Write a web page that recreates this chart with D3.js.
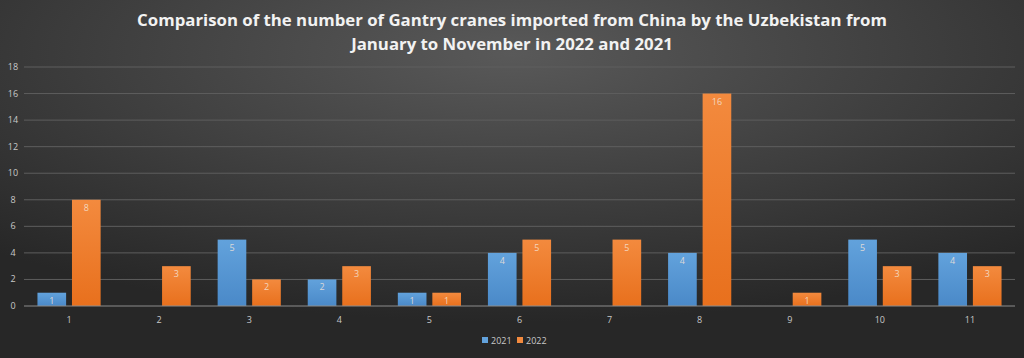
<!DOCTYPE html>
<html>
<head>
<meta charset="utf-8">
<script src="https://cdn.jsdelivr.net/npm/d3@7"></script>
<style>
  html, body { margin: 0; padding: 0; background: #333; }
  svg { display: block; font-family: "Open Sans", "Noto Sans", sans-serif; }
</style>
</head>
<body>
<div id="chart"></div>
<script>
// months, Jan..Nov
var months = ["1", "2", "3", "4", "5", "6", "7", "8", "9", "10", "11"];
var series = ["2021", "2022"];
var values2021 = [1, null, 5, 2, 1, 4, null, 4, null, 5, 4];
var values2022 = [8, 3, 2, 3, 1, 5, 5, 16, 1, 3, 3];
var yTicks = [0, 2, 4, 6, 8, 10, 12, 14, 16, 18];

var width = 1024, height = 358;
var margin = {top: 67, right: 9, bottom: 52, left: 24};

var svg = d3.select("#chart").append("svg")
    .attr("width", width)
    .attr("height", height);

var defs = svg.append("defs");
var bg = defs.append("radialGradient").attr("id", "bg")
    .attr("cx", "50%").attr("cy", "15%").attr("r", "75%");
bg.append("stop").attr("offset", "0%").attr("stop-color", "#595959");
bg.append("stop").attr("offset", "100%").attr("stop-color", "#272727");

var colors = {"2021": ["#62a2dc", "#4a89c8"], "2022": ["#f38a3e", "#e8701d"]};
series.forEach(function (s) {
    var g = defs.append("linearGradient").attr("id", "g" + s)
        .attr("x1", 0).attr("y1", 0).attr("x2", 0).attr("y2", 1);
    g.append("stop").attr("offset", "0%").attr("stop-color", colors[s][0]);
    g.append("stop").attr("offset", "100%").attr("stop-color", colors[s][1]);
});

svg.append("rect").attr("width", width).attr("height", height).attr("fill", "url(#bg)");

// title
var title = svg.append("text")
    .attr("text-anchor", "middle")
    .attr("fill", "#f2f2f2")
    .style("font-family", "'Open Sans', sans-serif")
    .style("font-weight", "bold")
    .style("font-size", "16.8px");
title.append("tspan").attr("x", width / 2).attr("y", 26)
    .text("Comparison of the number of Gantry cranes imported from China by the Uzbekistan from");
title.append("tspan").attr("x", width / 2).attr("y", 50)
    .text("January to November in 2022 and 2021");

var x = d3.scaleBand()
    .domain(months)
    .range([margin.left, width - margin.right]);

var x1 = d3.scaleBand()
    .domain(series)
    .range([0, x.bandwidth()])
    .paddingInner(0.17)
    .paddingOuter(0.39);

var y = d3.scaleLinear()
    .domain([0, 18])
    .range([height - margin.bottom, margin.top]);

// grid
svg.append("g")
    .selectAll("line")
    .data(yTicks.slice(1))
    .enter().append("line")
    .attr("x1", margin.left).attr("x2", width - margin.right)
    .attr("y1", function (d) { return y(d); })
    .attr("y2", function (d) { return y(d); })
    .attr("stroke", "#5e5e5e")
    .attr("stroke-width", 1);

// y labels
svg.append("g")
    .selectAll("text")
    .data(yTicks)
    .enter().append("text")
    .attr("x", 13)
    .attr("y", function (d) { return y(d) + 3; })
    .attr("text-anchor", "middle")
    .attr("fill", "#c8c8c8")
    .style("font-size", "9px")
    .text(function (d) { return d; });

var rows = months.map(function (m, i) {
    return {month: m, "2021": values2021[i], "2022": values2022[i]};
});

var groups = svg.append("g")
    .selectAll("g")
    .data(rows)
    .enter().append("g")
    .attr("transform", function (d) { return "translate(" + x(d.month) + ",0)"; });

var bars = groups.selectAll("g")
    .data(function (d) {
        return series.map(function (s) { return {key: s, value: d[s]}; })
            .filter(function (e) { return e.value != null; });
    })
    .enter().append("g");

bars.append("rect")
    .attr("x", function (d) { return x1(d.key); })
    .attr("width", x1.bandwidth())
    .attr("y", function (d) { return y(d.value); })
    .attr("height", function (d) { return y(0) - y(d.value); })
    .attr("fill", function (d) { return "url(#g" + d.key + ")"; });

bars.append("text")
    .attr("x", function (d) { return x1(d.key) + x1.bandwidth() / 2; })
    .attr("y", function (d) { return y(d.value) + 11; })
    .attr("text-anchor", "middle")
    .attr("fill", "#f4e4d8")
    .attr("fill-opacity", 0.85)
    .style("font-size", "9px")
    .text(function (d) { return d.value; });

// x axis line
svg.append("line")
    .attr("x1", margin.left).attr("x2", width - margin.right)
    .attr("y1", y(0)).attr("y2", y(0))
    .attr("stroke", "#8c8c8c")
    .attr("stroke-width", 1);

svg.append("g")
    .selectAll("text")
    .data(months)
    .enter().append("text")
    .attr("x", function (d) { return x(d) + x.bandwidth() / 2; })
    .attr("y", y(0) + 17)
    .attr("text-anchor", "middle")
    .attr("fill", "#c8c8c8")
    .style("font-size", "9px")
    .text(function (d) { return d; });

// legend
var legend = svg.append("g").attr("transform", "translate(482,337)");
var li = legend.selectAll("g")
    .data(series)
    .enter().append("g")
    .attr("transform", function (d, i) { return "translate(" + (i * 35) + ",0)"; });
li.append("rect")
    .attr("width", 6).attr("height", 6)
    .attr("fill", function (d) { return colors[d][0]; });
li.append("text")
    .attr("x", 9).attr("y", 6.5)
    .attr("fill", "#c8c8c8")
    .style("font-size", "9px")
    .text(function (d) { return d; });
</script>
</body>
</html>
